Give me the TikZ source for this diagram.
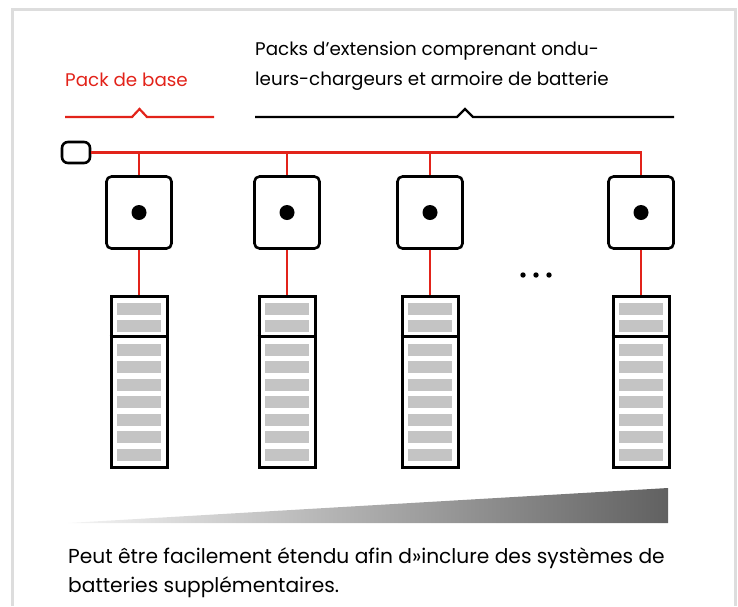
\documentclass[tikz,border=0pt]{standalone}
\usepackage{fontspec}
\setmainfont{Poppins}
\definecolor{packred}{HTML}{E2231A}
\definecolor{framegray}{HTML}{DDDDDD}
\definecolor{bargray}{HTML}{C4C4C4}
\tikzset{
  inverter/.style={draw, line width=2.6pt, rounded corners=5pt, minimum width=65pt, minimum height=72pt, inner sep=0pt},
  battery/.style={draw, line width=3pt, minimum width=56pt, minimum height=171pt, inner sep=0pt},
  wire/.style={packred, line width=2.6pt},
  labeltext/.style={font=\fontsize{18.3}{30}\selectfont, inner sep=0pt, align=left},
  notetext/.style={font=\fontsize{20.2}{29}\selectfont, inner sep=0pt, align=left},
}
\begin{document}
\begin{tikzpicture}[x=1pt,y=-1pt]
\useasboundingbox (0,0) rectangle (738,606);
\draw[framegray, line width=3pt] (12,606) -- (12,9) -- (735,9) -- (735,606);

% labels and braces
\node[labeltext, packred, anchor=base west] (base) at (65,86) {Pack de base};
\node[labeltext, anchor=base west] (ext) at (255,85) {Packs d’extension comprenant ondu-\\leurs-chargeurs et armoire de batterie};
\draw[packred, line width=2.2pt] (65,117) -- (132,117) -- (139.5,109) -- (147,117) -- (214,117);
\draw[line width=2.2pt] (255,117) -- (457,117) -- (465,109) -- (473,117) -- (674,117);

\node[draw, line width=2.6pt, rounded corners=6pt, minimum width=28pt, minimum height=21pt, inner sep=0pt] (term) at (76,152.5) {};

\foreach \i/\x in {1/139, 2/287, 3/430, 4/641}{
  \coordinate (tap\i) at (\x,152.5);
  \node[inverter] (inv\i) at (\x,212.5) {};
  \fill (inv\i.center) circle (7.5);
  \node[battery] (bat\i) at (\x,381.5) {};
  \draw[line width=3pt] ([yshift=-42pt]bat\i.north west) -- ([yshift=-42pt]bat\i.north east);
  \foreach \y in {309,326,350,367,385,402,420,437,455}
    \fill[bargray] (\x-22,\y-6) rectangle (\x+22,\y+6);
  \draw[wire] (tap\i) -- (inv\i.north);
  \draw[wire] (inv\i.south) -- (bat\i.north);
}
\draw[wire] (term.east) -| (inv4.north);

\fill (523,275) circle (2.7) (536,275) circle (2.7) (549,275) circle (2.7);

\shade[left color=black!4, right color=black!62] (68,523) -- (668,488) -- (668,523) -- cycle;
\node[notetext, anchor=base west] (note) at (68,592) {Peut être facilement étendu afin d»inclure des systèmes de\\batteries supplémentaires.};
\end{tikzpicture}
\end{document}
